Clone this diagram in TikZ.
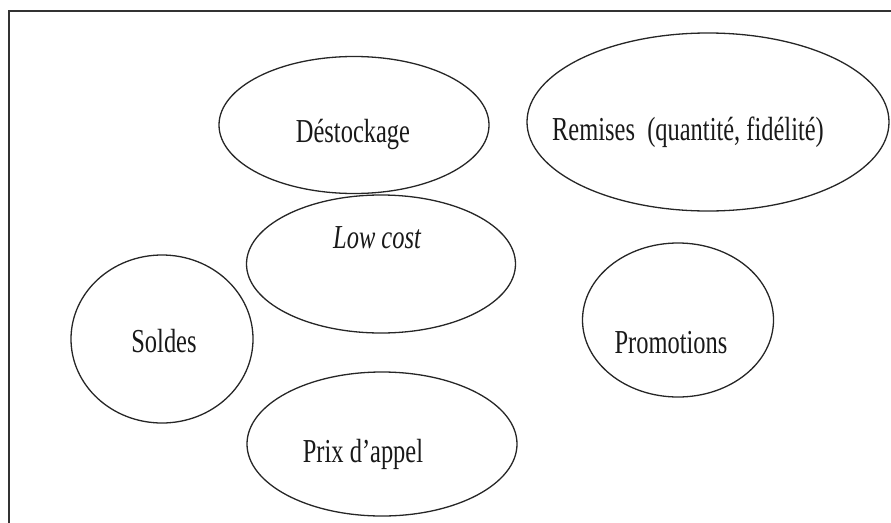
\documentclass[tikz,border=0pt]{standalone}
\usepackage{fontspec}
\setmainfont[FakeStretch=0.73]{Liberation Serif}
\usetikzlibrary{shapes.geometric}
\begin{document}
\begin{tikzpicture}[x=1pt,y=-1pt,
  oval/.style={draw=black!85,line width=1.3pt,ellipse,inner sep=0pt},
  lbl/.style={anchor=base,inner sep=0pt,font=\fontsize{33.5}{35}\selectfont,text=black!90}]
\useasboundingbox (0,0) rectangle (891,522);
\coordinate (fbl) at (9,530);
\coordinate (ftl) at (9,11);
\coordinate (ftr) at (895,11);
\draw[line width=1.2pt,black!80] (fbl) -- (ftl) -- (ftr);
% ellipses
\node[oval,minimum width=270pt,minimum height=137pt] (destE) at (354,125) {};
\node[oval,minimum width=362pt,minimum height=178pt] (remE) at (708,122) {};
\node[oval,minimum width=269pt,minimum height=138pt] (lowE) at (381,264) {};
\node[oval,minimum width=182pt,minimum height=168pt] (solE) at (162,339) {};
\node[oval,minimum width=191pt,minimum height=154pt] (proE) at (678,320) {};
\node[oval,minimum width=270pt,minimum height=144pt] (prixE) at (382,444) {};
% labels
\node[lbl] (dest) at (353,142) {Déstockage};
\node[lbl] (rem) at (688,140) {Remises\ \ (quantité, fidélité)};
\node[lbl,font=\fontsize{33.5}{35}\selectfont\itshape] (low) at (377,248) {Low cost};
\node[lbl] (sol) at (164,352) {Soldes};
\node[lbl] (pro) at (671,353) {Promotions};
\node[lbl] (prix) at (363,462) {Prix d’appel};
\end{tikzpicture}
\end{document}
